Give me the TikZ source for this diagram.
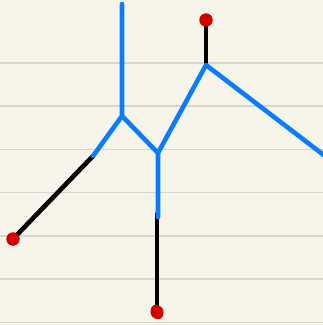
\documentclass[tikz,border=0pt]{standalone}
\usepackage{tikz}
\definecolor{paper}{HTML}{F7F5EA}
\definecolor{ruling}{HTML}{D6D6D4}
\definecolor{branchblue}{HTML}{0A7CFF}
\definecolor{tipred}{HTML}{D40000}
\tikzset{
  branch/.style={line width=4.6pt, branchblue, line cap=round, line join=round},
  stem/.style={line width=4.6pt, black, line cap=round},
  tip/.style={circle, fill=tipred, inner sep=0pt, minimum size=13pt}
}
\begin{document}
\begin{tikzpicture}[x=1pt, y=-1pt]
% --- 1. THE PAPER ---
  \fill[paper] (0,0) rectangle (323,325);
  \useasboundingbox (0,0) rectangle (323,325);
  \foreach \k in {0,...,6} {
    \draw[ruling, line width=1.6pt] (0,62.7+\k*43.3) -- (323,62.7+\k*43.3);
  }

% --- 2. JUNCTIONS AND ENDS ---
  \coordinate (top) at (122,4);
  \coordinate (jA) at (122,116);
  \coordinate (jB) at (158,153);
  \coordinate (jC) at (206,65);
  \coordinate (right) at (325,156);
  \coordinate (leftend) at (93,156);
  \coordinate (downend) at (158,217);

  % red tips
  \node[tip] (tipL) at (13,239) {};
  \node[tip] (tipD) at (157,312) {};
  \node[tip] (tipT) at (206,20) {};

% --- 3. BLACK STEMS ---
  \draw[stem] (leftend) -- (tipL.center);
  \draw[stem] (157,214) -- (tipD.center);
  \draw[stem] (jC) -- (tipT.center);
  % redraw tips above the stems
  \fill[tipred] (tipL) circle (6.6pt);
  \fill[tipred, rotate around={25:(tipD)}] (tipD) ellipse (6pt and 7.5pt);
  \fill[tipred] (tipT) circle (6.6pt);

% --- 4. BLUE BRANCHES ---
  \draw[branch] (top) -- (jA) -- (leftend);
  \draw[branch] (jA) -- (jB) -- (downend);
  \draw[branch] (jB) -- (jC) -- (right);
\end{tikzpicture}
\end{document}
